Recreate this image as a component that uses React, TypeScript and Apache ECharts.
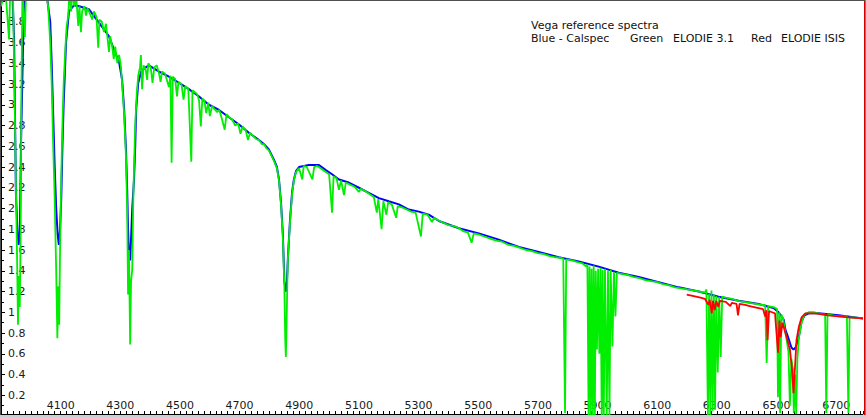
import React, { useEffect, useRef } from "react";
import * as echarts from "echarts";

const xTickLabels = [4100, 4300, 4500, 4700, 4900, 5100, 5300, 5500, 5700, 5900, 6100, 6300, 6500, 6700];

const titleText = "Vega reference spectra";
const legendTexts = ["Blue - Calspec", "Green", "ELODIE 3.1", "Red", "ELODIE ISIS"];

const calspecBlue: [number, number][] = [
  [3900, 3.97], [3908, 4.1], [3938, 4.1], [3944, 3.63], [3950, 2.15], [3955, 1.8], [3959, 1.65], [3963, 1.75],
  [3967, 2.6], [3975, 3.73], [3980, 4.1], [4052, 4.1], [4058, 3.95], [4065, 3.8], [4070, 3.4], [4075, 2.9],
  [4080, 2.4], [4085, 2.0], [4090, 1.75], [4094, 1.65], [4098, 1.8], [4102, 2.1], [4106, 2.6], [4110, 3.0],
  [4118, 3.6], [4128, 3.9], [4145, 3.96], [4162, 3.95], [4195, 3.92], [4229, 3.79], [4262, 3.66], [4279, 3.53],
  [4296, 3.41], [4306, 3.24], [4313, 2.95], [4319, 2.57], [4323, 2.18], [4326, 1.8], [4329, 1.55], [4333, 1.5],
  [4336, 1.7], [4340, 2.0], [4346, 2.28], [4350, 2.6], [4353, 2.95], [4360, 3.21], [4370, 3.32], [4380, 3.35],
  [4396, 3.38], [4430, 3.32], [4463, 3.27], [4497, 3.21], [4530, 3.15], [4564, 3.08], [4597, 3.0], [4631, 2.95],
  [4664, 2.88], [4698, 2.81], [4731, 2.73], [4765, 2.66], [4782, 2.62], [4798, 2.57], [4815, 2.47], [4825, 2.4],
  [4832, 2.28], [4839, 2.05], [4845, 1.75], [4850, 1.3], [4855, 1.2], [4858, 1.25], [4862, 1.53], [4869, 1.89],
  [4876, 2.16], [4882, 2.28], [4889, 2.36], [4899, 2.4], [4932, 2.42], [4966, 2.42], [4989, 2.37], [5010, 2.33],
  [5033, 2.28], [5066, 2.25], [5100, 2.2], [5133, 2.15], [5167, 2.1], [5200, 2.07], [5234, 2.04], [5267, 1.99],
  [5301, 1.97], [5334, 1.94], [5368, 1.88], [5435, 1.81], [5502, 1.76], [5569, 1.7], [5636, 1.63], [5703, 1.58],
  [5770, 1.53], [5837, 1.49], [5904, 1.44], [5971, 1.38], [6038, 1.34], [6105, 1.29], [6172, 1.24], [6239, 1.2],
  [6306, 1.15], [6373, 1.11], [6440, 1.08], [6490, 1.04], [6507, 1.0], [6524, 0.93], [6530, 0.83], [6540, 0.75],
  [6550, 0.66], [6557, 0.64], [6564, 0.66], [6574, 0.75], [6584, 0.91], [6594, 0.97], [6608, 0.99], [6641, 0.99],
  [6708, 0.97], [6790, 0.94],
];

const elodie31Green: [number, number][] = [
  [3900, 3.95], [3915, 4.1], [3927, 3.63], [3931, 4.1], [3940, 4.1], [3946, 3.0], [3950, 2.2], [3954, 1.5],
  [3957, 0.88], [3960, 1.35], [3963, 1.05], [3966, 1.8], [3968, 3.0], [3972, 4.1], [3980, 3.65], [3984, 4.1],
  [4050, 4.1], [4058, 3.95], [4065, 3.6], [4070, 3.2], [4075, 2.6], [4080, 2.1], [4085, 1.4], [4089, 0.75],
  [4092, 1.25], [4095, 0.88], [4098, 1.6], [4102, 2.3], [4106, 2.8], [4110, 3.2], [4115, 3.5], [4120, 3.75],
  [4125, 3.85], [4130, 4.1], [4135, 3.9], [4140, 4.1], [4146, 3.95], [4152, 4.05], [4159, 3.76], [4163, 3.95],
  [4168, 3.7], [4172, 3.9], [4180, 3.95], [4185, 3.86], [4190, 3.93], [4198, 3.88], [4206, 3.82], [4212, 3.9],
  [4220, 3.85], [4226, 3.55], [4230, 3.82], [4238, 3.8], [4245, 3.7], [4252, 3.78], [4262, 3.51], [4266, 3.66],
  [4272, 3.58], [4278, 3.44], [4283, 3.56], [4290, 3.4], [4296, 3.48], [4302, 3.37], [4306, 3.21], [4313, 2.9],
  [4319, 2.5], [4323, 2.0], [4326, 1.17], [4329, 1.6], [4333, 0.69], [4336, 1.3], [4340, 1.41], [4343, 2.0],
  [4346, 2.4], [4350, 2.8], [4355, 3.1], [4360, 3.28], [4366, 3.36], [4369, 3.48], [4373, 3.15], [4378, 3.38],
  [4385, 3.34], [4390, 3.24], [4394, 3.4], [4402, 3.36], [4408, 3.21], [4414, 3.36], [4422, 3.38], [4430, 3.3],
  [4435, 3.22], [4440, 3.32], [4450, 3.3], [4463, 3.17], [4468, 3.28], [4472, 2.44], [4476, 3.27], [4484, 3.25],
  [4490, 3.08], [4495, 3.22], [4505, 3.2], [4512, 3.05], [4518, 3.18], [4528, 3.15], [4538, 2.45], [4542, 3.14],
  [4550, 3.12], [4558, 3.1], [4564, 3.04], [4570, 2.79], [4575, 3.06], [4582, 3.04], [4588, 2.92], [4595, 3.02],
  [4600, 2.89], [4608, 2.99], [4615, 2.96], [4625, 2.93], [4632, 2.95], [4640, 2.87], [4650, 2.76], [4656, 2.91],
  [4665, 2.88], [4675, 2.86], [4685, 2.8], [4695, 2.82], [4703, 2.72], [4710, 2.79], [4720, 2.76], [4728, 2.66],
  [4735, 2.73], [4745, 2.7], [4755, 2.67], [4765, 2.66], [4775, 2.62], [4782, 2.62], [4790, 2.58], [4798, 2.56],
  [4805, 2.52], [4815, 2.46], [4825, 2.39], [4832, 2.27], [4839, 2.03], [4845, 1.72], [4850, 1.25], [4853, 0.73],
  [4855, 0.57], [4857, 0.8], [4860, 1.3], [4862, 1.52], [4869, 1.87], [4876, 2.14], [4882, 2.27], [4889, 2.35],
  [4899, 2.39], [4910, 2.28], [4915, 2.41], [4925, 2.4], [4944, 2.28], [4950, 2.4], [4960, 2.41], [4975, 2.38],
  [4990, 2.35], [5000, 2.33], [5010, 1.96], [5015, 2.31], [5025, 2.29], [5033, 2.18], [5040, 2.27], [5050, 2.13],
  [5056, 2.25], [5070, 2.23], [5085, 2.21], [5100, 2.16], [5106, 2.19], [5120, 2.17], [5135, 2.14], [5150, 2.11],
  [5160, 1.96], [5165, 2.09], [5176, 1.8], [5182, 2.07], [5192, 1.94], [5198, 2.06], [5210, 2.04], [5225, 1.91],
  [5230, 2.02], [5245, 2.01], [5260, 1.99], [5275, 1.97], [5290, 1.96], [5308, 1.73], [5314, 1.95], [5330, 1.94],
  [5345, 1.87], [5352, 1.91], [5370, 1.88], [5385, 1.86], [5400, 1.84], [5420, 1.83], [5435, 1.81], [5450, 1.78],
  [5465, 1.77], [5478, 1.67], [5485, 1.76], [5500, 1.75], [5520, 1.73], [5540, 1.71], [5560, 1.69], [5580, 1.68],
  [5600, 1.65], [5620, 1.64], [5640, 1.62], [5660, 1.6], [5680, 1.59], [5700, 1.57], [5720, 1.56], [5740, 1.54],
  [5760, 1.53], [5785, 1.52], [5791, 0.03], [5795, 1.51], [5815, 1.5], [5835, 1.48], [5850, 1.47], [5862, 1.44],
  [5866, 1.46], [5870, 0.0], [5873, 1.44], [5877, 0.0], [5880, 1.42], [5884, 0.0], [5887, 1.45], [5891, 0.0],
  [5894, 1.4], [5898, 0.64], [5902, 1.42], [5906, 0.6], [5910, 1.43], [5914, 0.0], [5917, 1.41], [5921, 0.0],
  [5925, 1.42], [5931, 0.0], [5935, 1.4], [5940, 0.0], [5944, 1.41], [5950, 0.67], [5955, 1.39], [5960, 0.96],
  [5965, 1.38], [5980, 1.37], [6000, 1.36], [6020, 1.34], [6040, 1.33], [6060, 1.31], [6080, 1.3], [6100, 1.29],
  [6120, 1.27], [6140, 1.26], [6160, 1.24], [6180, 1.23], [6200, 1.22], [6220, 1.21], [6240, 1.2], [6260, 1.19],
  [6265, 1.22], [6270, 0.0], [6274, 1.18], [6278, 0.0], [6282, 1.21], [6286, 0.05], [6290, 1.17], [6294, 0.06],
  [6298, 1.16], [6303, 0.42], [6308, 1.15], [6313, 0.57], [6318, 1.15], [6330, 1.14], [6350, 1.13], [6370, 1.11],
  [6390, 1.1], [6410, 1.09], [6430, 1.08], [6450, 1.07], [6462, 1.07], [6467, 0.51], [6472, 1.06], [6490, 1.05],
  [6502, 1.03], [6505, 0.18], [6509, 1.0], [6512, 0.03], [6516, 0.98], [6522, 0.94], [6527, 0.85], [6533, 0.75],
  [6540, 0.62], [6545, 0.1], [6550, 0.55], [6555, 0.45], [6558, 0.03], [6562, 0.4], [6566, 0.02], [6570, 0.55],
  [6575, 0.75], [6584, 0.9], [6594, 0.98], [6608, 1.0], [6625, 1.0], [6640, 0.99], [6655, 0.98], [6663, 0.98],
  [6667, 0.03], [6671, 0.98], [6690, 0.97], [6710, 0.96], [6736, 0.96], [6741, 0.03], [6745, 0.95], [6760, 0.95],
  [6790, 0.94],
];

const elodieIsisRed: [number, number][] = [
  [6199, 1.17], [6215, 1.16], [6230, 1.15], [6245, 1.14], [6260, 1.13], [6272, 1.07], [6276, 1.12], [6283, 0.99],
  [6287, 1.11], [6293, 1.02], [6298, 1.11], [6305, 1.05], [6310, 1.11], [6330, 1.1], [6345, 1.06], [6350, 1.09],
  [6366, 1.08], [6371, 0.97], [6376, 1.08], [6395, 1.07], [6410, 1.06], [6425, 1.05], [6440, 1.04], [6455, 1.03],
  [6462, 0.96], [6466, 1.02], [6470, 0.73], [6475, 1.01], [6485, 1.0], [6495, 0.99], [6505, 0.61], [6510, 0.92],
  [6514, 0.76], [6520, 0.9], [6527, 0.83], [6535, 0.75], [6545, 0.64], [6552, 0.45], [6557, 0.22], [6562, 0.47],
  [6567, 0.73], [6575, 0.86], [6584, 0.95], [6597, 0.99], [6630, 0.99], [6673, 0.97], [6740, 0.95], [6790, 0.94],
];

const FONT = '"DejaVu Sans", "Noto Sans", sans-serif';

export default function App() {
  const ref = useRef<HTMLDivElement>(null);
  useEffect(() => {
    if (!ref.current) return;
    const chart = echarts.init(ref.current, undefined, { renderer: "svg" });
    const textStyle = { fontFamily: FONT, fontSize: 11, color: "#1a1a1a" };
    const legendText = (text: string, x: number, y: number) => ({
      type: "text",
      x,
      y,
      z: 10,
      style: { text, fill: "#111", fontSize: 11, fontFamily: FONT, verticalAlign: "middle", lineHeight: 12 },
    });
    chart.setOption({
      animation: false,
      backgroundColor: "#ffffff",
      grid: { left: 1, right: 2, top: 1, bottom: 1, containLabel: false },
      xAxis: {
        type: "value",
        min: 3900,
        max: 6790,
        interval: 100,
        offset: -2,
        axisLine: { show: true, onZero: false, lineStyle: { color: "#000", width: 1 } },
        axisTick: { show: true, inside: true, length: 3, lineStyle: { color: "#000" } },
        minorTick: { show: true, splitNumber: 5, length: 3, lineStyle: { color: "#000" } },
        splitLine: { show: false },
        axisLabel: {
          ...textStyle,
          inside: true,
          margin: 3,
          showMinLabel: false,
          formatter: (v: number) => (xTickLabels.includes(Math.round(v)) ? String(Math.round(v)) : ""),
        },
      },
      yAxis: {
        type: "value",
        min: 0,
        max: 4,
        interval: 0.2,
        axisLine: { show: true, onZero: false, lineStyle: { color: "#000", width: 1 } },
        axisTick: { show: true, inside: true, length: 4, lineStyle: { color: "#000" } },
        minorTick: { show: true, splitNumber: 2, length: 3, lineStyle: { color: "#000" } },
        splitLine: { show: false },
        axisLabel: { ...textStyle, inside: true, margin: 7, showMinLabel: false, showMaxLabel: false },
      },
      series: [
        {
          name: "Calspec",
          type: "line",
          data: calspecBlue,
          showSymbol: false,
          symbol: "none",
          lineStyle: { color: "#0000ff", width: 2 },
          z: 2,
        },
        {
          name: "ELODIE 3.1",
          type: "line",
          data: elodie31Green,
          showSymbol: false,
          symbol: "none",
          lineStyle: { color: "#00ee00", width: 1.8 },
          z: 3,
        },
        {
          name: "ELODIE ISIS",
          type: "line",
          data: elodieIsisRed,
          showSymbol: false,
          symbol: "none",
          lineStyle: { color: "#ff0000", width: 1.8 },
          z: 4,
        },
      ],
      graphic: [
        { type: "line", shape: { x1: 0, y1: 0.5, x2: 866, y2: 0.5 }, style: { stroke: "#505050", lineWidth: 1 }, z: 10 },
        { type: "line", shape: { x1: 0.5, y1: 0, x2: 0.5, y2: 417 }, style: { stroke: "#505050", lineWidth: 1 }, z: 10 },
        { type: "line", shape: { x1: 864.5, y1: 1, x2: 864.5, y2: 415 }, style: { stroke: "#d00000", lineWidth: 1 }, z: 10 },
        { type: "line", shape: { x1: 865.5, y1: 0, x2: 865.5, y2: 417 }, style: { stroke: "#808080", lineWidth: 1 }, z: 10 },
        { type: "line", shape: { x1: 0, y1: 416, x2: 866, y2: 416 }, style: { stroke: "#c8d0dc", lineWidth: 2 }, z: 10 },
        legendText(titleText, 531, 25),
        legendText(legendTexts[0], 531, 38),
        legendText(legendTexts[1], 630, 38),
        legendText(legendTexts[2], 673, 38),
        legendText(legendTexts[3], 751, 38),
        legendText(legendTexts[4], 781, 38),
      ],
    });
    return () => chart.dispose();
  }, []);
  return (
    <div
      ref={ref}
      style={{ position: "fixed", left: 0, top: 0, width: 866, height: 417, background: "#fff" }}
    />
  );
}
